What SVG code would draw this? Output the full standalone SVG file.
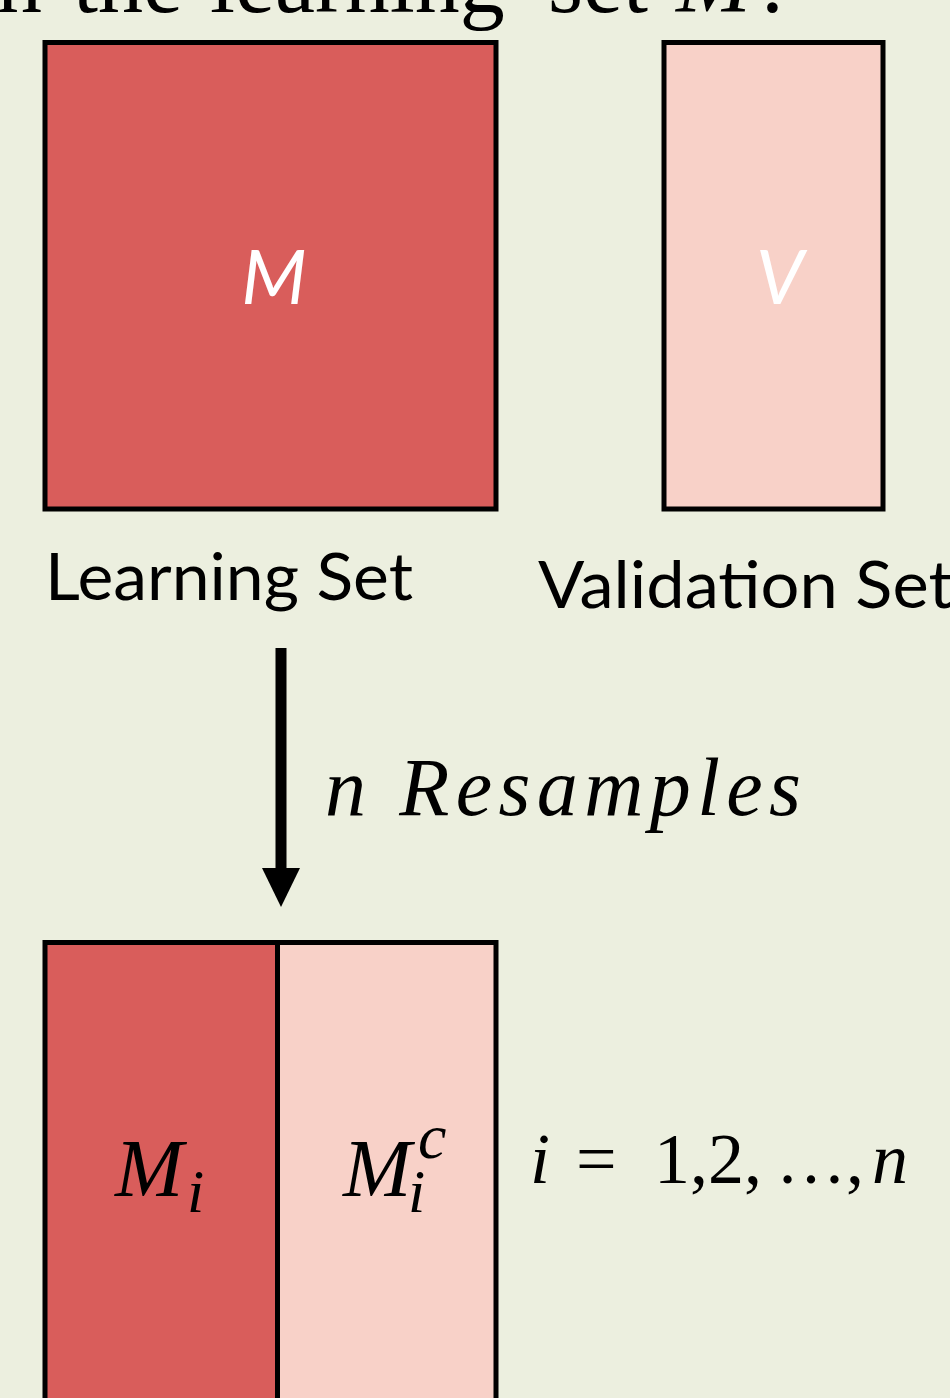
<svg xmlns="http://www.w3.org/2000/svg" width="950" height="1398" viewBox="0 0 950 1398">
<defs>
<style>
.bg{fill:#ECEFDF}
.red{fill:#D95D5B;stroke:#000;stroke-width:5}
.pink{fill:#F8D1C8;stroke:#000;stroke-width:5}
.serif{font-family:"Liberation Serif","Times New Roman",serif;fill:#000}
.math{font-family:"Liberation Serif","Times New Roman",serif;font-style:italic;fill:#000}
.sans{font-family:Lato,"Open Sans","Liberation Sans",sans-serif;fill:#000}
.wlabel{font-family:Lato,"Open Sans","Liberation Sans",sans-serif;font-style:italic;fill:#fff;font-size:76px;text-anchor:middle}
</style>
</defs>
<rect class="bg" x="0" y="0" width="950" height="1398"/>
<g id="title">
<text class="serif" font-size="90" y="12"><tspan x="-3">n</tspan><tspan x="73">the</tspan><tspan x="210">learning</tspan><tspan x="548">set</tspan><tspan x="676" font-style="italic">M</tspan><tspan x="760">:</tspan></text>
</g>
<g id="learning-set">
<rect class="red" x="45" y="42.5" width="451" height="466.5"/>
<text class="wlabel" x="274" y="304">M</text>
<text class="sans" x="45" y="600" font-size="66" textLength="368" lengthAdjust="spacingAndGlyphs">Learning Set</text>
</g>
<g id="validation-set">
<rect class="pink" x="664" y="42.5" width="219" height="466.5"/>
<text class="wlabel" x="780" y="304">V</text>
<text class="sans" x="538" y="608" font-size="66" textLength="415" lengthAdjust="spacingAndGlyphs">Validation Set</text>
</g>
<g id="connectors">
<line x1="281" y1="648" x2="281" y2="872" stroke="#000" stroke-width="11"/>
<polygon points="262,868 300,868 281,907" fill="#000"/>
</g>
<g id="resample-label">
<text class="math" x="325" y="815" font-size="82" textLength="476" lengthAdjust="spacing">n Resamples</text>
</g>
<g id="resample">
<rect class="red" x="45" y="942.5" width="232.5" height="500"/>
<rect class="pink" x="277.5" y="942.5" width="218.5" height="500"/>
<text class="math" x="115" y="1196" font-size="82">M<tspan x="187" y="1212" font-size="62">i</tspan></text>
<text class="math" x="343" y="1196" font-size="82">M<tspan x="408" y="1212" font-size="62">i</tspan><tspan x="418" y="1158" font-size="64">c</tspan></text>
</g>
<g id="index-label">
<text class="serif" y="1183" font-size="72"><tspan x="530" font-style="italic">i</tspan><tspan x="576">=</tspan><tspan x="654">1,2,</tspan><tspan x="776" font-size="70">…</tspan><tspan x="846">,</tspan><tspan x="872" font-style="italic">n</tspan></text>
</g>
</svg>
